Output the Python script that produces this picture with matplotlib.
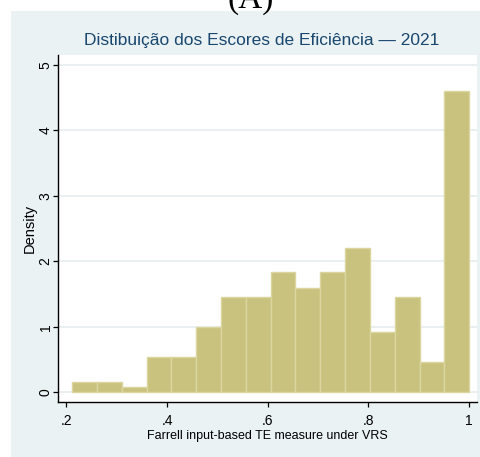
import matplotlib.pyplot as plt
from matplotlib.patches import Rectangle

# histogram of efficiency scores (density scale), 16 bins
bin_start = 0.2113
bin_width = 0.0493
density = [0.153, 0.153, 0.076, 0.534, 0.534, 0.992, 1.45, 1.45,
           1.83, 1.60, 1.83, 2.21, 0.916, 1.45, 0.458, 4.60]
xticks = [0.2, 0.4, 0.6, 0.8, 1.0]
xtick_labels = ['.2', '.4', '.6', '.8', '1']
yticks = [0, 1, 2, 3, 4, 5]

W, H = 481, 457
sans = ['Liberation Sans', 'DejaVu Sans']

fig = plt.figure(figsize=(W / 100, H / 100), dpi=100)
fig.patch.set_facecolor('white')

# graph region background
fig.patches.append(Rectangle((11 / W, 0), 1 - 11 / W, 1 - 11 / H,
                             transform=fig.transFigure, facecolor='#eaf2f3',
                             edgecolor='none', zorder=-5))

ax = fig.add_axes([58.3 / W, 1 - 401.7 / H, (476.7 - 58.3) / W, (401.7 - 55) / H])
ax.set_zorder(2)
ax.set_facecolor('white')

lefts = [bin_start + i * bin_width for i in range(len(density))]
ax.bar(lefts, density, width=bin_width, align='edge', color='#c9c27e',
       edgecolor='#dbd5a0', linewidth=1, zorder=3)

ax.set_xlim(0.184, 1.015)
ax.set_ylim(-0.143, 5.15)

for y in yticks:
    ax.axhline(y, color='#e6eef0', linewidth=1.2, zorder=1)

ax.set_xticks(xticks)
ax.set_xticklabels(xtick_labels)
ax.set_yticks(yticks)
ax.set_yticklabels([str(y) for y in yticks], rotation=90, va='center')
ax.tick_params(axis='both', direction='out', length=3.6, width=0.9, color='black',
               labelsize=10, labelcolor='black')
ax.tick_params(axis='y', pad=0.5)
ax.tick_params(axis='x', pad=5)

for side in ['top', 'right']:
    ax.spines[side].set_visible(False)
for side in ['left', 'bottom']:
    ax.spines[side].set_color('black')
    ax.spines[side].set_linewidth(1)

ax.set_xlabel('Farrell input-based TE measure under VRS', fontsize=9,
              family=sans, labelpad=2)
ax.set_ylabel('Density', fontsize=10.5, family=sans)
ax.yaxis.set_label_coords(-0.052, 0.5)
for lab in ax.get_xticklabels() + ax.get_yticklabels():
    lab.set_family(sans)

fig.text(261.5 / W, 1 - 40 / H, 'Distibuição dos Escores de Eficiência — 2021',
         ha='center', va='center', fontsize=12.5, color='#1a476f',
         family=sans)

# panel letter, partly above the top edge
fig.text(251 / W, 1 - 8 / H, '(A)', ha='center', va='baseline',
         fontsize=24, family='Liberation Serif', color='black')

fig.savefig('out.png', dpi=100, facecolor=fig.get_facecolor())
